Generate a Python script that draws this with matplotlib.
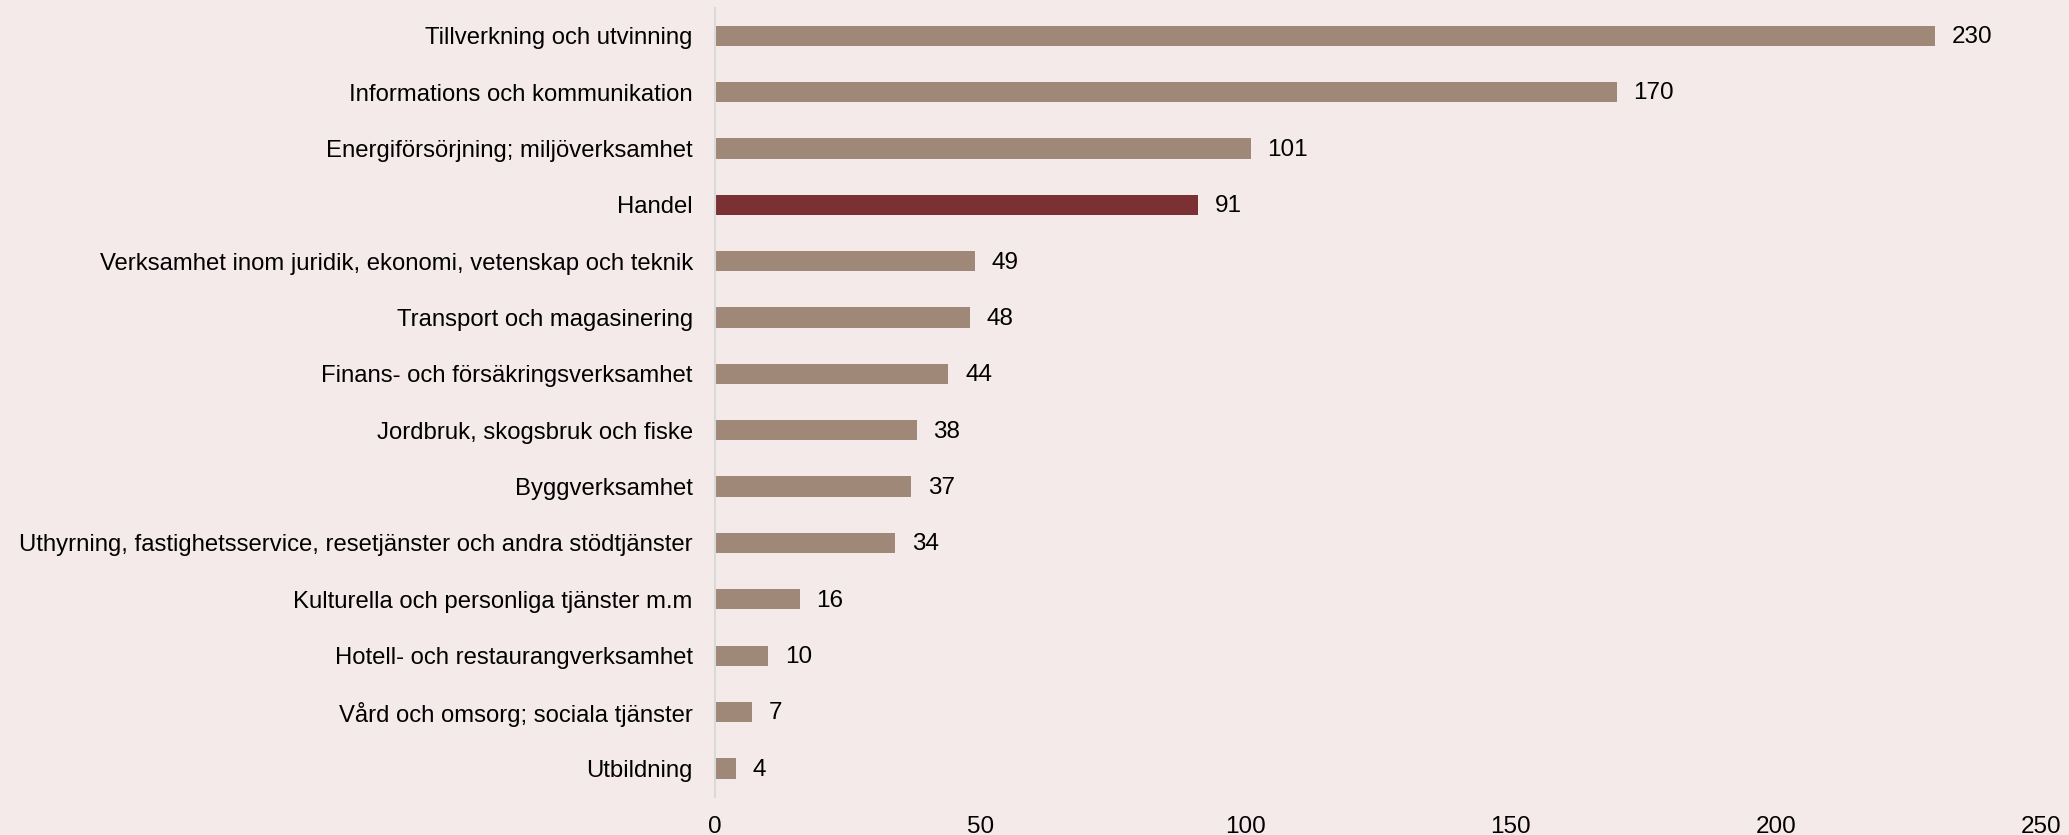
import matplotlib
matplotlib.use("Agg")
import matplotlib.pyplot as plt

plt.rcParams['font.family'] = ['Liberation Sans', 'DejaVu Sans']

categories = [
    "Tillverkning och utvinning",
    "Informations och kommunikation",
    "Energiförsörjning; miljöverksamhet",
    "Handel",
    "Verksamhet inom juridik, ekonomi, vetenskap och teknik",
    "Transport och magasinering",
    "Finans- och försäkringsverksamhet",
    "Jordbruk, skogsbruk och fiske",
    "Byggverksamhet",
    "Uthyrning, fastighetsservice, resetjänster och andra stödtjänster",
    "Kulturella och personliga tjänster m.m",
    "Hotell- och restaurangverksamhet",
    "Vård och omsorg; sociala tjänster",
    "Utbildning",
]
values = [230, 170, 101, 91, 49, 48, 44, 38, 37, 34, 16, 10, 7, 4]
highlight = "Handel"
xticks = [0, 50, 100, 150, 200, 250]

bg = "#F5EAEA"
bar_col = "#A08878"
hl_col = "#7B3033"

fig = plt.figure(figsize=(20.69, 8.35), dpi=100, facecolor=bg)
ax = fig.add_axes([0.3456, 0.046, 0.641, 0.945])
ax.set_facecolor(bg)

colors = [hl_col if c == highlight else bar_col for c in categories]
ypos = list(range(len(categories)))
bars = ax.barh(ypos, values, height=0.36, color=colors)
for b, v in zip(bars, values):
    ax.annotate(str(v), (b.get_width(), b.get_y() + b.get_height() / 2),
                xytext=(12, -1), textcoords='offset points',
                ha='left', va='center', fontsize=17.5)

ax.set_yticks(ypos)
ax.set_yticklabels(categories, fontsize=17.2)
ax.set_ylim(len(categories) - 0.5, -0.5)
ax.set_xlim(0, 250)
ax.set_xticks(xticks)
ax.set_xticklabels([str(t) for t in xticks], fontsize=17.5)
ax.tick_params(axis='y', length=0, pad=16)
ax.tick_params(axis='x', length=0, pad=14)

for s in ['top', 'right', 'bottom']:
    ax.spines[s].set_visible(False)
ax.spines['left'].set_color("#D9D9D9")
ax.spines['left'].set_linewidth(1.5)

fig.savefig("out.png", dpi=100, facecolor=bg)
